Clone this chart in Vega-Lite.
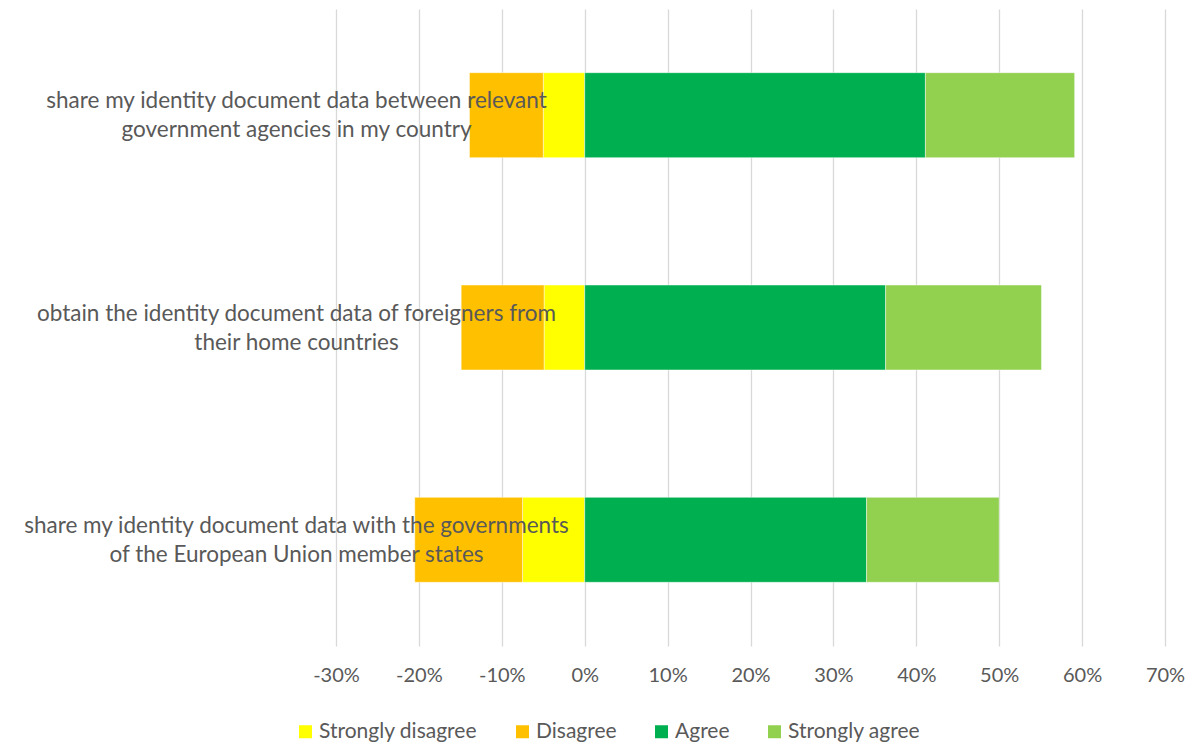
{
  "$schema": "https://vega.github.io/schema/vega-lite/v6.json",
  "width": 829,
  "height": 637,
  "autosize": {"type": "none"},
  "padding": {"left": 336, "top": 9, "right": 28, "bottom": 96},
  "background": "white",
  "config": {
    "view": {"stroke": null},
    "font": "Lato",
    "text": {"font": "Lato"}
  },
  "data": {
    "values": [
      {"question": "share my identity document data between relevant\ngovernment agencies in my country", "response": "Strongly disagree", "value": -0.050, "rank": 1},
      {"question": "share my identity document data between relevant\ngovernment agencies in my country", "response": "Disagree", "value": -0.089, "rank": 2},
      {"question": "share my identity document data between relevant\ngovernment agencies in my country", "response": "Agree", "value": 0.411, "rank": 3},
      {"question": "share my identity document data between relevant\ngovernment agencies in my country", "response": "Strongly agree", "value": 0.180, "rank": 4},
      {"question": "obtain the identity document data of foreigners from\ntheir home countries", "response": "Strongly disagree", "value": -0.049, "rank": 1},
      {"question": "obtain the identity document data of foreigners from\ntheir home countries", "response": "Disagree", "value": -0.100, "rank": 2},
      {"question": "obtain the identity document data of foreigners from\ntheir home countries", "response": "Agree", "value": 0.363, "rank": 3},
      {"question": "obtain the identity document data of foreigners from\ntheir home countries", "response": "Strongly agree", "value": 0.188, "rank": 4},
      {"question": "share my identity document data with the governments\nof the European Union member states", "response": "Strongly disagree", "value": -0.075, "rank": 1},
      {"question": "share my identity document data with the governments\nof the European Union member states", "response": "Disagree", "value": -0.130, "rank": 2},
      {"question": "share my identity document data with the governments\nof the European Union member states", "response": "Agree", "value": 0.340, "rank": 3},
      {"question": "share my identity document data with the governments\nof the European Union member states", "response": "Strongly agree", "value": 0.160, "rank": 4}
    ]
  },
  "mark": {"type": "bar", "stroke": "white", "strokeWidth": 0.75, "strokeOpacity": 0.6},
  "encoding": {
    "y": {
      "field": "question",
      "type": "nominal",
      "sort": null,
      "scale": {"paddingInner": 0.6, "paddingOuter": 0.3},
      "axis": {
        "title": null,
        "domain": false,
        "ticks": false,
        "labelAlign": "center",
        "labelBaseline": "middle",
        "labelPadding": 40,
        "labelOffset": -14,
        "labelFontSize": 22.5,
        "labelColor": "#595959",
        "labelLineHeight": 29,
        "labelLimit": 1000,
        "labelExpr": "split(datum.value, '\\n')",
        "zindex": 1
      }
    },
    "x": {
      "field": "value",
      "type": "quantitative",
      "stack": "zero",
      "scale": {"domain": [-0.3, 0.7], "nice": false},
      "axis": {
        "title": null,
        "values": [-0.3, -0.2, -0.1, 0, 0.1, 0.2, 0.3, 0.4, 0.5, 0.6, 0.7],
        "labelExpr": "replace(format(datum.value, '.0%'), '\u2212', '-')",
        "grid": true,
        "gridColor": "#d9d9d9",
        "gridWidth": 1.3,
        "domain": false,
        "ticks": false,
        "labelPadding": 19,
        "labelFontSize": 20,
        "labelColor": "#595959",
        "labelFlush": false,
        "zindex": 0
      }
    },
    "color": {
      "field": "response",
      "type": "nominal",
      "scale": {
        "domain": ["Strongly disagree", "Disagree", "Agree", "Strongly agree"],
        "range": ["#FFFF00", "#FFC000", "#00B050", "#92D050"]
      },
      "legend": {
        "title": null,
        "orient": "none",
        "direction": "horizontal",
        "legendX": -41,
        "legendY": 712,
        "padding": 0,
        "symbolType": "square",
        "symbolSize": 169,
        "symbolStrokeWidth": 0,
        "labelFontSize": 21,
        "labelLimit": 400,
        "labelColor": "#595959",
        "labelOffset": 3,
        "columnPadding": 34
      }
    },
    "order": {"field": "rank", "type": "quantitative"}
  }
}
